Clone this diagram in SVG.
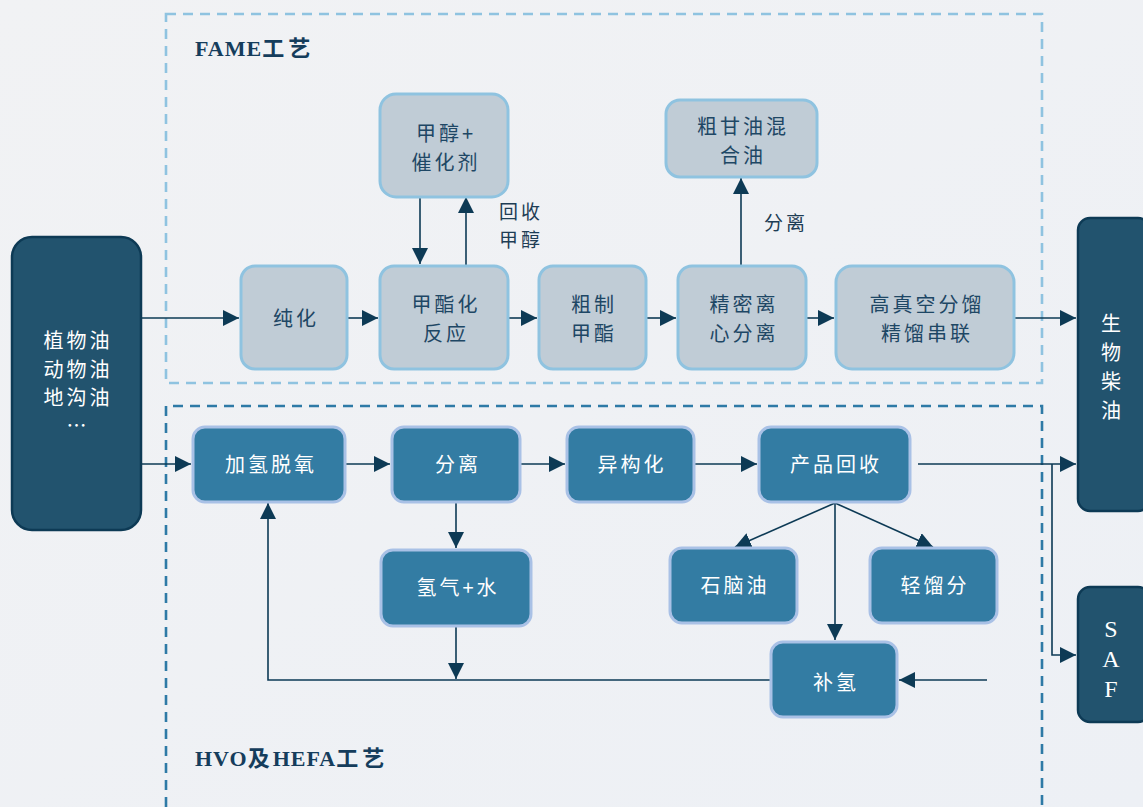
<svg xmlns="http://www.w3.org/2000/svg" width="1143" height="807" viewBox="0 0 1143 807">
<defs>
<linearGradient id="bg" x1="0" y1="0" x2="1" y2="1">
<stop offset="0" stop-color="#f1f2f4"/>
<stop offset="1" stop-color="#edf0f5"/>
</linearGradient>
<marker id="ahb" viewBox="0 0 16 16" refX="16" refY="8" markerWidth="16" markerHeight="16" markerUnits="userSpaceOnUse" orient="auto">
<path d="M0,0 L16,8 L0,16 z" fill="#0d3a55"/>
</marker>
</defs>
<style>
.cn{font-family:"Noto Sans CJK SC","Noto Sans",sans-serif;font-size:20px;letter-spacing:3px;text-anchor:middle}
.gray rect{fill:#c0ccd6;stroke:#8fc3e0;stroke-width:3}
.gray text{fill:#1e4765}
.blue rect{fill:#337ca3;stroke:#a9c1e6;stroke-width:3}
.blue text{fill:#ffffff}
.dark rect{fill:#22536e;stroke:#0d3a55;stroke-width:2.5}
.dark text{fill:#ffffff}
.ttl{font-family:"Liberation Serif","Noto Sans CJK SC",serif;font-weight:bold;font-size:22px;fill:#153d5c;letter-spacing:1px}
.lbl{font-family:"Noto Sans CJK SC","Noto Sans",sans-serif;font-size:19px;fill:#1e3d55;letter-spacing:3px}
.saf{font-family:"Liberation Serif",serif;font-size:24px;fill:#fff;text-anchor:middle}
#connectors path{fill:none;stroke:#0d3a55;stroke-width:1.6}
</style>
<rect width="1143" height="807" fill="url(#bg)"/>

<g id="frames" fill="none" stroke-width="2.6">
<rect x="166" y="14" width="876" height="369" stroke="#8fc3e0" stroke-dasharray="10,7"/>
<path d="M166,807 V406 H1042 V807" stroke="#2e7aa6" stroke-dasharray="10,7"/>
</g>
<text class="ttl" x="195" y="56">FAME<tspan letter-spacing="4">工艺</tspan></text>
<text class="ttl" x="195" y="766">HVO<tspan letter-spacing="3">及</tspan>HEFA<tspan letter-spacing="4">工艺</tspan></text>

<g id="connectors">
<path d="M141,318 H239" marker-end="url(#ahb)"/>
<path d="M347,318 H378" marker-end="url(#ahb)"/>
<path d="M508,318 H537" marker-end="url(#ahb)"/>
<path d="M646,318 H676" marker-end="url(#ahb)"/>
<path d="M806,318 H834" marker-end="url(#ahb)"/>
<path d="M1014,318 H1076" marker-end="url(#ahb)"/>
<path d="M420,197 V264" marker-end="url(#ahb)"/>
<path d="M466,266 V197" marker-end="url(#ahb)"/>
<path d="M741,266 V178" marker-end="url(#ahb)"/>
<path d="M141,464 H191" marker-end="url(#ahb)"/>
<path d="M345,464 H390" marker-end="url(#ahb)"/>
<path d="M520,464 H565" marker-end="url(#ahb)"/>
<path d="M694,464 H757" marker-end="url(#ahb)"/>
<path d="M918,464 H1076" marker-end="url(#ahb)"/>
<path d="M1052,464 V655 H1076" marker-end="url(#ahb)"/>
<path d="M835,503 L735,547" marker-end="url(#ahb)"/>
<path d="M835,503 L933,547" marker-end="url(#ahb)"/>
<path d="M835,503 V640" marker-end="url(#ahb)"/>
<path d="M456,502 V548" marker-end="url(#ahb)"/>
<path d="M456,626 V679" marker-end="url(#ahb)"/>
<path d="M771,680 H268 V503" marker-end="url(#ahb)"/>
<path d="M987,680 H899" marker-end="url(#ahb)"/>
</g>
<text class="lbl" x="499" y="219">回收</text>
<text class="lbl" x="499" y="247">甲醇</text>
<text class="lbl" x="764" y="230">分离</text>

<g id="n-feed" class="dark">
<rect x="12" y="237" width="129" height="293" rx="20"/>
<text class="cn" x="78" y="348">植物油</text>
<text class="cn" x="78" y="377">动物油</text>
<text class="cn" x="78" y="405">地沟油</text>
<text class="cn" x="78" y="433">…</text>
</g>
<g id="n-purify" class="gray">
<rect x="241" y="266" width="106" height="103" rx="14"/>
<text class="cn" x="296" y="326">纯化</text>
</g>
<g id="n-methanol" class="gray">
<rect x="380" y="94" width="128" height="103" rx="16"/>
<text class="cn" x="446" y="141">甲醇+</text>
<text class="cn" x="446" y="170">催化剂</text>
</g>
<g id="n-ester" class="gray">
<rect x="380" y="266" width="128" height="103" rx="14"/>
<text class="cn" x="446" y="312">甲酯化</text>
<text class="cn" x="446" y="341">反应</text>
</g>
<g id="n-crude" class="gray">
<rect x="539" y="266" width="107" height="103" rx="14"/>
<text class="cn" x="594" y="312">粗制</text>
<text class="cn" x="594" y="341">甲酯</text>
</g>
<g id="n-centri" class="gray">
<rect x="678" y="266" width="128" height="103" rx="14"/>
<text class="cn" x="744" y="312">精密离</text>
<text class="cn" x="744" y="341">心分离</text>
</g>
<g id="n-distill" class="gray">
<rect x="836" y="266" width="178" height="103" rx="16"/>
<text class="cn" x="927" y="312">高真空分馏</text>
<text class="cn" x="927" y="341">精馏串联</text>
</g>
<g id="n-glycerol" class="gray">
<rect x="666" y="100" width="151" height="77" rx="14"/>
<text class="cn" x="743" y="134">粗甘油混</text>
<text class="cn" x="743" y="163">合油</text>
</g>
<g id="n-biodiesel" class="dark">
<rect x="1078" y="218" width="72" height="293" rx="12"/>
<text class="cn" x="1111" y="331" style="letter-spacing:0">生</text>
<text class="cn" x="1111" y="360" style="letter-spacing:0">物</text>
<text class="cn" x="1111" y="389" style="letter-spacing:0">柴</text>
<text class="cn" x="1111" y="418" style="letter-spacing:0">油</text>
</g>
<g id="n-saf" class="dark">
<rect x="1078" y="587" width="72" height="135" rx="12"/>
<text class="saf" x="1111" y="637">S</text>
<text class="saf" x="1111" y="667">A</text>
<text class="saf" x="1111" y="697">F</text>
</g>
<g id="n-hdo" class="blue">
<rect x="193" y="427" width="152" height="75" rx="12"/>
<text class="cn" x="271" y="472">加氢脱氧</text>
</g>
<g id="n-sep" class="blue">
<rect x="392" y="427" width="128" height="75" rx="12"/>
<text class="cn" x="458" y="472">分离</text>
</g>
<g id="n-iso" class="blue">
<rect x="567" y="427" width="127" height="75" rx="12"/>
<text class="cn" x="632" y="472">异构化</text>
</g>
<g id="n-recover" class="blue">
<rect x="759" y="427" width="151" height="75" rx="12"/>
<text class="cn" x="836" y="472">产品回收</text>
</g>
<g id="n-h2w" class="blue">
<rect x="381" y="550" width="150" height="76" rx="12"/>
<text class="cn" x="458" y="595">氢气+水</text>
</g>
<g id="n-naphtha" class="blue">
<rect x="670" y="548" width="127" height="75" rx="12"/>
<text class="cn" x="735" y="593">石脑油</text>
</g>
<g id="n-light" class="blue">
<rect x="870" y="548" width="127" height="75" rx="12"/>
<text class="cn" x="935" y="593">轻馏分</text>
</g>
<g id="n-h2add" class="blue">
<rect x="771" y="642" width="126" height="75" rx="12"/>
<text class="cn" x="836" y="690">补氢</text>
</g>
</svg>
